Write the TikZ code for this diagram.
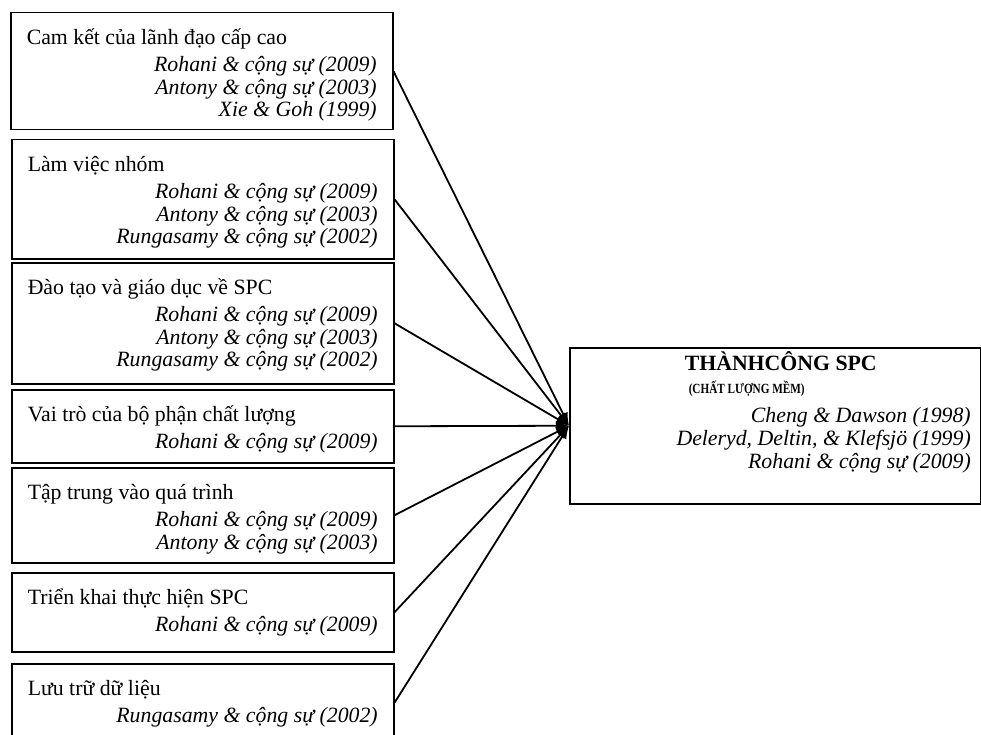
\documentclass[tikz,border=0pt]{standalone}
\usepackage{fontspec}
\usepackage{graphicx}
\setmainfont{Liberation Serif}
\usetikzlibrary{arrows.meta}

\newcommand{\factorbox}[3]{\parbox[c][#1][t]{350pt}{\fontsize{21.8}{22.5}\selectfont
  \rule{0pt}{32pt}#2\par\vspace{4.5pt}\raggedleft\itshape #3}}

\tikzset{
  factor/.style={draw, line width=1.5pt, anchor=north west, inner xsep=16pt, inner ysep=0pt},
  goal/.style={draw, line width=1.5pt, anchor=north west, inner xsep=10pt, inner ysep=0pt},
  link/.style={line width=1.8pt, -{Latex[length=13pt,width=10pt]}}
}

\begin{document}
\begin{tikzpicture}[x=1pt,y=-1pt]
  \useasboundingbox (0,0) rectangle (981,735);
  \clip (0,0) rectangle (981,735);

  \node[factor] (camket) at (10,12) {\factorbox{117pt}{Cam kết của lãnh đạo cấp cao}%
    {Rohani \& cộng sự (2009)\\ Antony \& cộng sự (2003)\\ Xie \& Goh (1999)}};
  \node[factor] (nhom) at (11,139) {\factorbox{119pt}{Làm việc nhóm}%
    {Rohani \& cộng sự (2009)\\ Antony \& cộng sự (2003)\\ Rungasamy \& cộng sự (2002)}};
  \node[factor] (daotao) at (11,262) {\factorbox{121pt}{Đào tạo và giáo dục về SPC}%
    {Rohani \& cộng sự (2009)\\ Antony \& cộng sự (2003)\\ Rungasamy \& cộng sự (2002)}};
  \node[factor] (vaitro) at (11,389) {\factorbox{73pt}{Vai trò của bộ phận chất lượng}%
    {Rohani \& cộng sự (2009)}};
  \node[factor] (taptrung) at (11,467) {\factorbox{95pt}{Tập trung vào quá trình}%
    {Rohani \& cộng sự (2009)\\ Antony \& cộng sự (2003)}};
  \node[factor] (trienkhai) at (11,572) {\factorbox{79pt}{Triển khai thực hiện SPC}%
    {Rohani \& cộng sự (2009)}};
  \node[factor] (luutru) at (11,663) {\factorbox{78pt}{Lưu trữ dữ liệu}%
    {Rungasamy \& cộng sự (2002)}};

  \node[goal] (spc) at (569,347) {\parbox[c][156pt][t]{391pt}{\fontsize{21.8}{23}\selectfont
    \rule{0pt}{23pt}\hspace*{105pt}\textbf{THÀNHCÔNG SPC}\par
    {\fontsize{14}{23}\selectfont\bfseries\hspace*{109pt}\scalebox{0.8}[1]{(CHẤT LƯỢNG MỀM)}\par}
    \vspace{6pt}
    \raggedleft\itshape Cheng \& Dawson (1998)\\
    Deleryd, Deltin, \& Klefsjö (1999)\\
    Rohani \& cộng sự (2009)}};

  \foreach \f in {camket,nhom,daotao,vaitro,taptrung,trienkhai,luutru}
    \draw[link] (\f.east) -- (spc.west);
\end{tikzpicture}
\end{document}
